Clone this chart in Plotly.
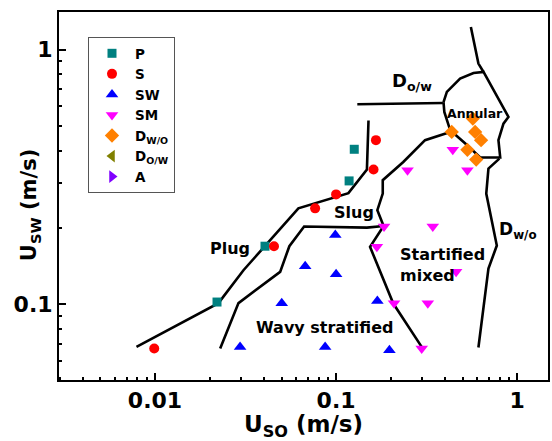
import math
import plotly.graph_objects as go

# ---------------- data (m/s) ----------------
P_x = [0.022, 0.0405, 0.118, 0.126]
P_y = [0.102, 0.169, 0.305, 0.406]

S_x = [0.0099, 0.0454, 0.0766, 0.100, 0.161, 0.166]
S_y = [0.067, 0.169, 0.238, 0.270, 0.338, 0.441]

SW_x = [0.099, 0.0675, 0.100, 0.0501, 0.169, 0.0295, 0.087, 0.197]
SW_y = [0.187, 0.141, 0.131, 0.101, 0.103, 0.068, 0.068, 0.066]

SM_x = [0.184, 0.342, 0.168, 0.46, 0.209, 0.321, 0.297, 0.248, 0.531, 0.441]
SM_y = [0.202, 0.202, 0.168, 0.134, 0.101, 0.101, 0.067, 0.336, 0.336, 0.404]

DWO_x = [0.569, 0.586, 0.632, 0.435, 0.531, 0.594]
DWO_y = [0.536, 0.475, 0.441, 0.475, 0.404, 0.370]

DOW_x = []
DOW_y = []
A_x = []
A_y = []

# regime boundaries (m/s)
plug_x = [0.0079, 0.0224, 0.0308, 0.0619, 0.117, 0.148, 0.151]
plug_y = [0.068, 0.101, 0.136, 0.238, 0.273, 0.338, 0.527]

slug_low_x = [0.0229, 0.0289, 0.0491, 0.0552, 0.0666, 0.148, 0.183]
slug_low_y = [0.067, 0.101, 0.134, 0.169, 0.202, 0.200, 0.203]

slug_sm_x = [0.183, 0.169, 0.181, 0.181, 0.235, 0.310, 0.427]
slug_sm_y = [0.203, 0.234, 0.272, 0.307, 0.362, 0.441, 0.475]

sm_ws_x = [0.183, 0.154, 0.207, 0.297]
sm_ws_y = [0.203, 0.168, 0.1006, 0.068]

dwo_x = [0.798, 0.694, 0.675, 0.772, 0.694, 0.611]
dwo_y = [0.373, 0.341, 0.272, 0.170, 0.138, 0.0676]

ann_x = [0.392, 0.409, 0.484, 0.574, 0.652, 0.772, 0.895, 0.840, 0.788, 0.806,
         0.625, 0.517, 0.427, 0.396, 0.392]
ann_y = [0.622, 0.682, 0.769, 0.809, 0.817, 0.662, 0.544, 0.512, 0.441, 0.377,
         0.377, 0.428, 0.482, 0.569, 0.622]

top_x = [0.652, 0.611, 0.555]
top_y = [0.817, 0.881, 1.227]

dow_line_x = [0.131, 0.389]
dow_line_y = [0.610, 0.617]

x_tickvals = [0.01, 0.1, 1]
x_ticktext = ["0.01", "0.1", "1"]
y_tickvals = [0.1, 1]
y_ticktext = ["0.1", "1"]

FONT = "DejaVu Sans, Verdana, sans-serif"

fig = go.Figure()

for bx, by in [(plug_x, plug_y), (slug_low_x, slug_low_y), (slug_sm_x, slug_sm_y),
               (sm_ws_x, sm_ws_y), (dwo_x, dwo_y), (ann_x, ann_y), (top_x, top_y),
               (dow_line_x, dow_line_y)]:
    fig.add_trace(go.Scatter(x=bx, y=by, mode="lines", showlegend=False,
                             line=dict(color="black", width=2.6), hoverinfo="skip"))

series = [
    ("P", P_x, P_y, "square", "#008080", 9),
    ("S", S_x, S_y, "circle", "#FF0000", 10),
    ("SW", SW_x, SW_y, "triangle-up", "#0000FF", 11),
    ("SM", SM_x, SM_y, "triangle-down", "#FF00FF", 11),
    ("D<sub>W/O</sub>", DWO_x, DWO_y, "diamond", "#FF8000", 11),
    ("D<sub>O/W</sub>", DOW_x, DOW_y, "triangle-left", "#808000", 11),
    ("A", A_x, A_y, "triangle-right", "#8000FF", 11),
]
for name, sx, sy, sym, col, sz in series:
    fig.add_trace(go.Scatter(x=sx if sx else [None], y=sy if sy else [None],
                             mode="markers", name=name,
                             marker=dict(symbol=sym, color=col, size=sz, line=dict(width=0))))

def minor_vals(lo, hi):
    return [m * 10 ** e for e in range(lo, hi) for m in range(2, 10)]

axis_common = dict(
    type="log", showgrid=False, zeroline=False, showline=True, linecolor="black",
    linewidth=2, mirror=True, ticks="inside", ticklen=7, tickwidth=2, tickcolor="black",
    tickmode="array", automargin=False,
    tickfont=dict(family=FONT, size=22, color="black", weight="bold"),
)

fig.update_xaxes(**axis_common, tickvals=x_tickvals, ticktext=x_ticktext,
                 range=[math.log10(0.00295), math.log10(1.48)],
                 minor=dict(ticks="inside", ticklen=3, tickwidth=2, tickcolor="black",
                            tickmode="array", tickvals=minor_vals(-3, 1), showgrid=False),
                 title=dict(text="<b>U<sub>SO</sub> (m/s)</b>", standoff=8,
                            font=dict(family=FONT, size=23, color="black")))
fig.update_yaxes(**axis_common, tickvals=y_tickvals, ticktext=y_ticktext,
                 range=[math.log10(0.0504), math.log10(1.405)],
                 minor=dict(ticks="inside", ticklen=3, tickwidth=2, tickcolor="black",
                            tickmode="array", tickvals=minor_vals(-2, 1), showgrid=False))

annots = [
    ("<b>Plug</b>", 0.3497, 0.356, "center", 16, 0),
    ("<b>Slug</b>", 0.603, 0.4565, "center", 16, 0),
    ("<b>Wavy stratified</b>", 0.543, 0.144, "center", 16, 0),
    ("<b>Startified<br>mixed</b>", 0.693, 0.3125, "left", 16, 0),
    ("<b>Annular</b>", 0.8497, 0.7255, "center", 12.5, 0),
    ("<b>D<sub>o/w</sub></b>", 0.677, 0.81, "left", 18, 0),
    ("<b>D<sub>w/o</sub></b>", 0.8957, 0.4076, "left", 17, 0),
    ("<b>U<sub>SW</sub> (m/s)</b>", -0.059, 0.4755, "center", 21, -90),
]
for txt, ax, ay, anc, fs, ang in annots:
    fig.add_annotation(text=txt, x=ax, y=ay, xref="paper", yref="paper",
                       xanchor=anc, yanchor="middle", align="left", showarrow=False,
                       textangle=ang,
                       font=dict(family=FONT, size=fs, color="black"))

fig.update_layout(
    width=552, height=441,
    margin=dict(l=59, r=4, t=12, b=61, autoexpand=False),
    paper_bgcolor="white", plot_bgcolor="white",
    font=dict(family=FONT, color="black"),
    legend=dict(x=0.0593, y=0.932, xanchor="left", yanchor="top",
                bordercolor="#555555", borderwidth=1, bgcolor="white",
                font=dict(family=FONT, size=13.5, color="black", weight="bold"),
                tracegroupgap=0, itemwidth=36),
)

fig.write_html("out.html")
